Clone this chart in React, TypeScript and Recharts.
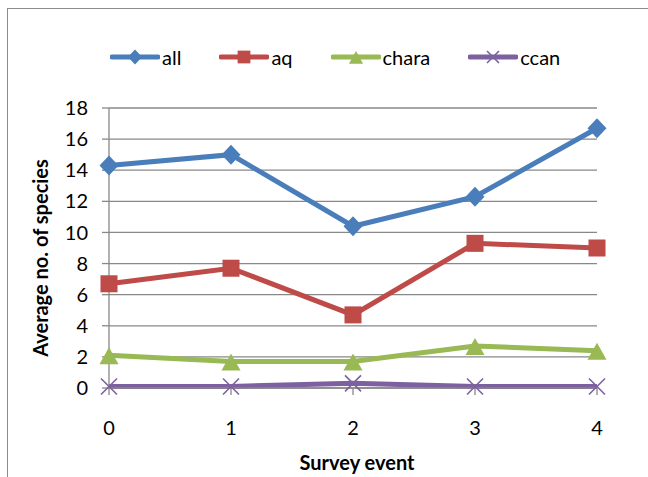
import React from "react";
import { CartesianGrid, Label, Legend, Line, LineChart, XAxis, YAxis } from "recharts";

// survey events on the x axis
const surveyEvents = [0, 1, 2, 3, 4];

// average number of species per group
const allSpecies = [14.3, 15.0, 10.4, 12.3, 16.7];
const aqSpecies = [6.7, 7.7, 4.7, 9.3, 9.0];
const charaSpecies = [2.1, 1.7, 1.7, 2.7, 2.4];
const ccanSpecies = [0.1, 0.1, 0.3, 0.1, 0.1];

const yTicks = [0, 2, 4, 6, 8, 10, 12, 14, 16, 18];

const data = surveyEvents.map((ev, i) => ({
  event: ev,
  all: allSpecies[i],
  aq: aqSpecies[i],
  chara: charaSpecies[i],
  ccan: ccanSpecies[i],
}));

type Shape = "diamond" | "square" | "triangle" | "x";

const series: { key: string; color: string; shape: Shape }[] = [
  { key: "all", color: "#4A7EBB", shape: "diamond" },
  { key: "aq", color: "#BE4B48", shape: "square" },
  { key: "chara", color: "#98B954", shape: "triangle" },
  { key: "ccan", color: "#7D60A0", shape: "x" },
];

const FONT = "Lato, 'Open Sans', sans-serif";
const GRID = "#888888";

function marker(shape: Shape, cx: number, cy: number, color: string, s = 1, key?: string) {
  switch (shape) {
    case "diamond":
      return (
        <polygon
          key={key}
          points={`${cx},${cy - 10 * s} ${cx + 9.5 * s},${cy} ${cx},${cy + 10 * s} ${cx - 9.5 * s},${cy}`}
          fill={color}
        />
      );
    case "square":
      return <rect key={key} x={cx - 8.5 * s} y={cy - 8.5 * s} width={17 * s} height={17 * s} fill={color} />;
    case "triangle":
      return (
        <polygon
          key={key}
          points={`${cx},${cy - 8 * s} ${cx + 9.5 * s},${cy + 9 * s} ${cx - 9.5 * s},${cy + 9 * s}`}
          fill={color}
        />
      );
    default:
      return (
        <g key={key} stroke={color} strokeWidth={1.6}>
          <line x1={cx - 8 * s} y1={cy - 8 * s} x2={cx + 8 * s} y2={cy + 8 * s} />
          <line x1={cx + 8 * s} y1={cy - 8 * s} x2={cx - 8 * s} y2={cy + 8 * s} />
        </g>
      );
  }
}

function renderLegend() {
  return (
    <div style={{ display: "flex", alignItems: "center", paddingLeft: 110, fontFamily: FONT, fontSize: 20 }}>
      {series.map((s) => (
        <div key={s.key} style={{ display: "flex", alignItems: "center", marginRight: 38 }}>
          <svg width={50} height={20}>
            <line x1={2} y1={10} x2={48} y2={10} stroke={s.color} strokeWidth={5} strokeLinecap="round" />
            {marker(s.shape, 25, 10, s.color, 0.75)}
          </svg>
          <span style={{ marginLeft: 2, color: "#000" }}>{s.key}</span>
        </div>
      ))}
    </div>
  );
}

export default function App() {
  return (
    <div style={{ position: "fixed", left: 0, top: 0, width: 648, height: 477, overflow: "hidden", background: "#fff" }}>
      <div
        style={{
          position: "absolute",
          left: 7,
          top: 8,
          width: 700,
          height: 500,
          border: "1px solid #8c8c8c",
        }}
      />
      <LineChart
        width={648}
        height={477}
        data={data}
        margin={{ top: 108, right: 51, bottom: 9, left: 49 }}
        style={{ position: "absolute", left: 0, top: 0, fontFamily: FONT }}
      >
        <CartesianGrid vertical={false} stroke={GRID} strokeWidth={1.3} />
        <XAxis
          dataKey="event"
          height={80}
          axisLine={{ stroke: GRID, strokeWidth: 1.3 }}
          tickLine={{ stroke: GRID, strokeWidth: 1.3 }}
          tickSize={7}
          tickMargin={26}
          tick={{ fill: "#000", fontSize: 20 }}
        >
          <Label
            content={({ viewBox }: any) => (
              <text
                x={viewBox.x + viewBox.width / 2 + 4}
                y={462}
                textAnchor="middle"
                dominantBaseline="central"
                fontSize={20}
                fontWeight="bold"
                fill="#000"
              >
                Survey event
              </text>
            )}
          />
        </XAxis>
        <YAxis
          width={60}
          domain={[0, 18]}
          ticks={yTicks}
          interval={0}
          axisLine={{ stroke: GRID, strokeWidth: 1.3 }}
          tickLine={{ stroke: GRID, strokeWidth: 1.3 }}
          tickSize={7}
          tickMargin={14}
          tick={{ fill: "#000", fontSize: 20 }}
        >
          <Label
            content={({ viewBox }: any) => {
              const cy = viewBox.y + viewBox.height / 2 + 10;
              return (
                <text
                  x={40}
                  y={cy}
                  transform={`rotate(-90 40 ${cy})`}
                  textAnchor="middle"
                  dominantBaseline="central"
                  fontSize={20}
                  fontWeight="bold"
                  fill="#000"
                >
                  Average no. of species
                </text>
              );
            }}
          />
        </YAxis>
        <Legend
          verticalAlign="middle"
          align="center"
          layout="horizontal"
          wrapperStyle={{ top: 45, left: 0, width: 648 }}
          content={renderLegend}
        />
        {series.map((s) => (
          <Line
            key={s.key}
            dataKey={s.key}
            stroke={s.color}
            strokeWidth={5}
            isAnimationActive={false}
            dot={(p: any) => marker(s.shape, p.cx, p.cy, s.color, 1, `${s.key}-${p.index}`)}
            activeDot={false}
          />
        ))}
      </LineChart>
    </div>
  );
}
